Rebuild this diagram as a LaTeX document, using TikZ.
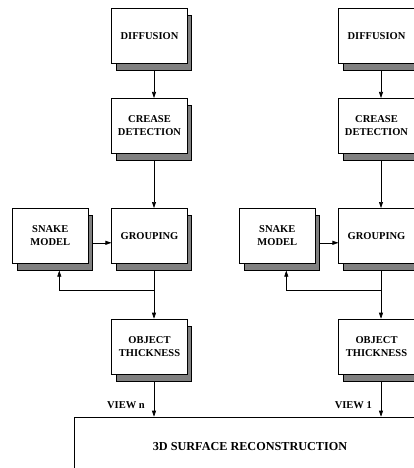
\documentclass[tikz,border=0pt]{standalone}
\usepackage{fontspec}
\setmainfont{Liberation Serif}
\usetikzlibrary{arrows.meta,shadows}
\begin{document}
\begin{tikzpicture}[
  x=1pt, y=-1pt,
  blk/.style={draw, line width=0.6pt, fill=white, align=center,
    minimum width=75.5pt, minimum height=55pt, inner sep=2pt,
    font=\fontsize{10.5}{13}\selectfont\bfseries,
    drop shadow={shadow xshift=4.5pt, shadow yshift=-7pt,
      fill=black!50, draw=black, opacity=1}},
  base/.style={draw, line width=0.6pt, fill=white,
    minimum width=352pt, minimum height=60pt,
    font=\fontsize{12.2}{14}\selectfont\bfseries},
  lbl/.style={font=\fontsize{10.5}{13}\selectfont\bfseries, inner sep=0pt},
  lnk/.style={line width=0.6pt, -{Triangle[length=6pt,width=4pt]}}
]
\useasboundingbox (0,0) rectangle (414,468);
% merged result
\node[base] (rec) at (250,447) {3D SURFACE RECONSTRUCTION};
% one column per view
\foreach \dx/\id/\vw in {0/a/n, 227/b/1}{
  \begin{scope}[xshift=\dx pt]
  \node[blk] (dif\id) at (149.5,35.8) {DIFFUSION};
  \node[blk] (cre\id) at (149.5,125.8) {CREASE\\DETECTION};
  \node[blk] (grp\id) at (149.5,235.8) {GROUPING};
  \node[blk] (snk\id) at (50.3,235.8) {SNAKE\\MODEL};
  \node[blk] (obj\id) at (149.5,346.5) {OBJECT\\THICKNESS};
  \end{scope}
  \draw[lnk] ([xshift=4.5pt,yshift=-7pt]dif\id.south) -- ([xshift=4.5pt]cre\id.north);
  \draw[lnk] ([xshift=4.5pt,yshift=-7pt]cre\id.south) -- ([xshift=4.5pt]grp\id.north);
  \draw[lnk] ([xshift=4.5pt,yshift=-7pt]grp\id.south) -- ([xshift=4.5pt]obj\id.north);
  \draw[lnk] ([xshift=4.5pt,yshift=-7pt]snk\id.east) -- ([yshift=-7pt]grp\id.west);
  % feedback to the snake
  \draw[lnk] ([xshift=4.5pt,yshift=-27pt]grp\id.south) -| ([xshift=9pt,yshift=-7pt]snk\id.south);
  \coordinate (in\id) at ([xshift=4.5pt]obj\id.south |- rec.north);
  \draw[lnk] ([xshift=4.5pt,yshift=-7pt]obj\id.south) -- (in\id);
  \node[lbl, anchor=south east] (vw\id) at ([xshift=-9pt,yshift=8pt]in\id) {VIEW \vw};
}
\end{tikzpicture}
\end{document}
